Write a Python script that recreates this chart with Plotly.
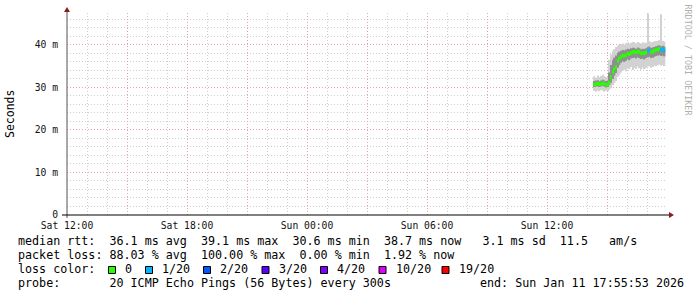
import plotly.graph_objects as go
import pandas as pd

# ---------------- data ----------------
step_start = "2026-01-11 14:20:00"   # first 300 s step
step_seconds = 300

median_ms = [30.7, 30.8, 30.9, 30.7, 30.8, 31.0, 30.9, 30.6, 30.7,
             31.2, 32.4, 33.6, 34.3, 34.8, 36.2, 36.8, 37.2,
             37.5, 37.4, 37.6, 38.0, 37.8, 38.1, 38.3, 38.4, 38.2, 38.5,
             38.3, 38.0, 38.1, 38.0, 38.2, 38.6, 38.7, 38.3, 38.4, 38.6,
             38.8, 38.9, 39.1, 38.9, 39.0, 38.7]

loss_of_20 = [0, 0, 0, 0, 0, 0, 0, 0, 0,
              0, 0, 0, 0, 0, 0, 0, 0,
              0, 0, 0, 0, 0, 0, 0, 0, 0, 0,
              0, 0, 0, 0, 0, 1, 1, 0, 0, 0,
              0, 0, 0, 1, 1, 1]

ping_min = [29.2, 29.0, 29.3, 29.1, 29.4, 29.2, 29.0, 29.3, 29.1,
            29.5, 29.8, 30.5, 31.0, 31.5, 32.5, 33.0, 33.5,
            34.0, 34.2, 33.8, 34.5, 34.3, 34.8, 34.1, 34.6, 34.4, 34.9,
            34.5, 34.2, 34.7, 34.3, 34.6, 34.9, 35.0, 34.6, 34.8, 35.1,
            35.0, 35.2, 35.4, 35.1, 35.3, 35.0]

ping_p25 = [30.1, 30.2, 30.3, 30.1, 30.2, 30.4, 30.2, 30.0, 30.1,
            30.6, 31.1, 32.0, 32.8, 33.4, 34.6, 35.3, 35.8,
            36.2, 36.0, 36.3, 36.6, 36.4, 36.8, 36.9, 37.0, 36.8, 37.1,
            36.9, 36.7, 36.8, 36.6, 36.9, 37.1, 37.2, 36.9, 37.0, 37.2,
            37.4, 37.5, 37.6, 37.4, 37.5, 37.3]

ping_p75 = [31.5, 31.6, 31.7, 31.4, 31.6, 31.8, 31.6, 31.5, 31.6,
            33.5, 35.3, 36.4, 37.0, 37.5, 38.1, 38.4, 38.6,
            38.8, 38.7, 38.9, 39.1, 39.0, 39.2, 39.3, 39.3, 39.1, 39.4,
            39.2, 39.0, 39.1, 39.0, 39.2, 39.5, 39.6, 39.3, 39.4, 39.5,
            39.7, 39.8, 39.9, 39.7, 39.8, 39.6]

ping_max = [32.6, 32.3, 32.8, 32.4, 32.7, 33.0, 32.6, 32.4, 32.5,
            36.5, 37.8, 38.5, 39.0, 39.5, 39.8, 40.0, 40.2,
            40.3, 40.1, 40.4, 40.6, 40.3, 40.5, 40.7, 40.6, 40.4, 40.7,
            40.5, 40.3, 40.6, 40.4, 40.5, 47.4, 40.9, 40.6, 40.7, 40.8,
            40.9, 41.0, 41.1, 47.2, 41.0, 40.8]

x_range = ["2026-01-10 12:00:00", "2026-01-11 18:00:00"]
x_tick_times = ["2026-01-10 12:00", "2026-01-10 15:00", "2026-01-10 18:00",
                "2026-01-10 21:00", "2026-01-11 00:00", "2026-01-11 03:00",
                "2026-01-11 06:00", "2026-01-11 09:00", "2026-01-11 12:00",
                "2026-01-11 15:00"]
x_tick_text = ["Sat 12:00", "", "Sat 18:00", "", "Sun 00:00", "",
               "Sun 06:00", "", "Sun 12:00", ""]
y_tick_vals = [0, 10, 20, 30, 40]
y_tick_text = ["0", "10 m", "20 m", "30 m", "40 m"]
y_max = 47.5

loss_labels = ["0", "1/20", "2/20", "3/20", "4/20", "10/20", "19/20"]
loss_counts = [0, 1, 2, 3, 4, 10, 19]
loss_colors = ["#26ff00", "#00b8ff", "#0059ff", "#5e00ff", "#7e00ff", "#dd00ff", "#ff0000"]

legend_lines = [
    "median rtt:  36.1 ms avg  39.1 ms max  30.6 ms min  38.7 ms now   3.1 ms sd  11.5   am/s",
    "packet loss: 88.03 % avg  100.00 % max  0.00 % min  1.92 % now",
]
probe_text = "probe:       20 ICMP Echo Pings (56 Bytes) every 300s"
end_text = "end: Sun Jan 11 17:55:53 2026"

# ---------------- figure ----------------
MONO = "DejaVu Sans Mono"
W, H = 697, 297
L, R, T, B = 67, 667, 13, 215


def px(x):
    return (x - L) / (R - L)


def py(y):
    return (B - y) / (B - T)


def nb(s):
    return s.replace(" ", "\u00a0")


times = pd.date_range(step_start, periods=len(median_ms), freq=f"{step_seconds}s")
centers = times + pd.Timedelta(seconds=step_seconds / 2)
width_ms = step_seconds * 1000

color_of = dict(zip(loss_counts, loss_colors))
median_colors = [color_of.get(c, "#26ff00") for c in loss_of_20]

fig = go.Figure()
fig.add_trace(go.Bar(x=centers, base=ping_min,
                     y=[h - l for h, l in zip(ping_max, ping_min)],
                     width=width_ms, marker=dict(color="#d2d2d2", line=dict(width=0)),
                     hoverinfo="skip"))
fig.add_trace(go.Bar(x=centers, base=ping_p25,
                     y=[h - l for h, l in zip(ping_p75, ping_p25)],
                     width=width_ms, marker=dict(color="#8f8f8f", line=dict(width=0)),
                     hoverinfo="skip"))
fig.add_trace(go.Bar(x=centers, base=[m - 0.4 for m in median_ms],
                     y=[0.8] * len(median_ms), width=width_ms,
                     marker=dict(color=median_colors, line=dict(width=0)),
                     hoverinfo="skip"))

grid_minor = "#cfcfcf"
grid_major = "#e2a6a6"

fig.update_layout(
    width=W, height=H,
    margin=dict(l=L, r=W - R, t=T, b=H - B),
    paper_bgcolor="white", plot_bgcolor="white",
    showlegend=False, barmode="overlay",
    font=dict(family=MONO, size=10, color="black"),
    xaxis=dict(type="date", range=x_range, tickvals=x_tick_times, ticktext=x_tick_text,
               showgrid=True, gridcolor=grid_major, griddash="1px,2px", gridwidth=1,
               minor=dict(dtick=3600000, tick0="2026-01-10 12:00", showgrid=True,
                          gridcolor=grid_minor, griddash="1px,2px", gridwidth=1),
               tickfont=dict(family=MONO, size=9.7, color="#111"),
               ticks="", ticklabelstandoff=3, showline=False, zeroline=False,
               fixedrange=True),
    yaxis=dict(range=[0, y_max], tickvals=y_tick_vals, ticktext=y_tick_text,
               showgrid=True, gridcolor=grid_major, griddash="1px,2px", gridwidth=1,
               minor=dict(dtick=2, showgrid=True, gridcolor=grid_minor,
                          griddash="1px,2px", gridwidth=1),
               tickfont=dict(family=MONO, size=9.7, color="#111"),
               ticks="", ticklabelstandoff=8, showline=False, zeroline=False,
               fixedrange=True),
)

shapes = []
# axes
shapes.append(dict(type="line", xref="paper", yref="paper",
                   x0=px(67), x1=px(67), y0=py(218), y1=py(10),
                   line=dict(color="#555555", width=1)))
shapes.append(dict(type="line", xref="paper", yref="paper",
                   x0=px(62), x1=px(669), y0=py(215), y1=py(215),
                   line=dict(color="black", width=1)))
# arrows
shapes.append(dict(type="path", xref="paper", yref="paper",
                   path=f"M {px(64)} {py(12)} L {px(70)} {py(12)} L {px(67)} {py(7)} Z",
                   fillcolor="#8b1c1c", line=dict(color="#8b1c1c", width=0)))
shapes.append(dict(type="path", xref="paper", yref="paper",
                   path=f"M {px(669)} {py(212)} L {px(669)} {py(218)} L {px(674)} {py(215)} Z",
                   fillcolor="#8b1c1c", line=dict(color="#8b1c1c", width=0)))

annotations = []
row_y = [241.5, 255.2, 269.0, 282.7]
for i, line in enumerate(legend_lines):
    annotations.append(dict(text=nb(line), xref="paper", yref="paper",
                            x=px(16), y=py(row_y[i]), xanchor="left", yanchor="middle",
                            showarrow=False, font=dict(family=MONO, size=11.7, color="black")))
annotations.append(dict(text=nb("loss color:"), xref="paper", yref="paper",
                        x=px(16), y=py(row_y[2]), xanchor="left", yanchor="middle",
                        showarrow=False, font=dict(family=MONO, size=11.7, color="black")))
square_left = [108, 145, 203, 261.5, 320, 378.5, 441.5]
for sx, lab, col in zip(square_left, loss_labels, loss_colors):
    shapes.append(dict(type="rect", xref="paper", yref="paper",
                       x0=px(sx + 0.5), x1=px(sx + 7.5), y0=py(266.5), y1=py(273.5),
                       fillcolor=col, line=dict(color="black", width=1)))
    annotations.append(dict(text=nb(lab), xref="paper", yref="paper",
                            x=px(sx + 15), y=py(row_y[2]), xanchor="left", yanchor="middle",
                            showarrow=False, font=dict(family=MONO, size=11.7, color="black")))
annotations.append(dict(text=nb(probe_text), xref="paper", yref="paper",
                        x=px(16), y=py(row_y[3]), xanchor="left", yanchor="middle",
                        showarrow=False, font=dict(family=MONO, size=11.7, color="black")))
annotations.append(dict(text=nb(end_text), xref="paper", yref="paper",
                        x=px(478), y=py(row_y[3]), xanchor="left", yanchor="middle",
                        showarrow=False, font=dict(family=MONO, size=11.7, color="black")))
annotations.append(dict(text="Seconds", xref="paper", yref="paper",
                        x=px(10), y=py(114), xanchor="center", yanchor="middle",
                        textangle=-90, showarrow=False,
                        font=dict(family=MONO, size=11.5, color="black")))
annotations.append(dict(text=nb("RRDTOOL / TOBI OETIKER"), xref="paper", yref="paper",
                        x=px(687.5), y=py(60), xanchor="center", yanchor="middle",
                        textangle=90, showarrow=False,
                        font=dict(family=MONO, size=8.4, color="#b0b0b0")))

fig.update_layout(shapes=shapes, annotations=annotations)
fig.write_html("out.html")
